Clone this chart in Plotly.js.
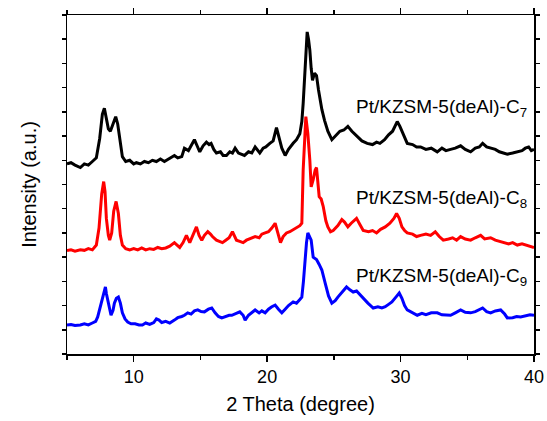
<!DOCTYPE html>
<html>
<head>
<meta charset="utf-8">
<script src="https://cdn.plot.ly/plotly-3.0.1.min.js"></script>
<style>html,body{margin:0;padding:0;background:#fff;}#chart{width:547px;height:421px;}</style>
</head>
<body>
<div id="chart"></div>
<script>
// 2 Theta (degree) and offset intensities (a.u.)
const xC7 = [5.0,5.3,5.6,6.0,6.3,6.6,6.9,7.2,7.45,7.65,7.8,7.95,8.1,8.25,8.45,8.65,8.8,9.0,9.15,9.4,9.7,10.0,10.2,10.5,10.8,11.1,11.4,11.7,12.0,12.3,12.45,12.7,13.05,13.3,13.6,13.8,14.1,14.3,14.55,14.75,14.95,15.2,15.45,15.65,15.8,16.0,16.2,16.5,16.7,16.95,17.2,17.4,17.6,17.85,18.05,18.3,18.6,18.85,19.1,19.3,19.45,19.7,19.9,20.2,20.45,20.7,20.85,21.1,21.35,21.6,21.95,22.2,22.45,22.6,22.7,22.85,23.0,23.1,23.2,23.3,23.4,23.55,23.7,23.85,23.95,24.1,24.3,24.55,24.85,25.1,25.45,25.75,26.05,26.35,26.7,27.1,27.5,27.9,28.2,28.45,28.8,29.1,29.4,29.75,29.95,30.1,30.3,30.5,30.9,31.2,31.5,31.9,32.3,32.75,33.1,33.4,33.75,34.1,34.5,34.85,35.25,35.6,35.9,36.15,36.45,36.75,37.1,37.4,37.7,38.0,38.4,38.75,39.1,39.35,39.6,39.8,40.0];
const yC7 = [7.85,7.9,7.8,7.7,7.85,7.8,7.95,8.1,8.9,9.9,10.15,9.7,9.3,9.2,9.5,9.8,9.5,8.6,8.15,7.95,8.0,7.85,7.9,7.85,7.95,7.9,8.0,7.95,8.05,7.95,8.0,8.1,8.2,8.1,8.15,8.5,8.4,8.6,8.85,8.6,8.35,8.6,8.75,8.65,8.7,8.45,8.3,8.35,8.2,8.2,8.35,8.3,8.5,8.3,8.25,8.2,8.35,8.3,8.55,8.4,8.3,8.5,8.55,8.7,8.8,9.35,9.0,8.5,8.2,8.45,8.7,8.85,9.1,9.6,10.35,12.0,13.3,13.0,12.55,11.8,11.3,11.6,11.5,10.9,10.5,10.1,9.65,9.2,8.85,9.0,9.2,9.25,9.4,9.2,9.0,8.8,8.7,8.65,8.75,8.7,8.85,9.05,9.2,9.6,9.4,9.2,8.9,8.7,8.65,8.55,8.55,8.45,8.5,8.35,8.5,8.4,8.45,8.5,8.6,8.45,8.35,8.5,8.55,8.7,8.55,8.5,8.45,8.35,8.3,8.25,8.3,8.35,8.4,8.5,8.55,8.4,8.45];

const xC8 = [5.0,5.3,5.6,6.0,6.3,6.6,6.9,7.2,7.4,7.6,7.75,7.85,7.95,8.1,8.2,8.35,8.5,8.68,8.85,9.0,9.15,9.4,9.7,10.0,10.3,10.6,10.9,11.2,11.5,11.8,12.1,12.4,12.7,13.05,13.25,13.45,13.7,13.95,14.2,14.45,14.7,14.9,15.1,15.3,15.55,15.75,15.9,16.2,16.45,16.65,16.9,17.15,17.4,17.55,17.7,17.95,18.2,18.45,18.7,19.1,19.4,19.6,19.85,20.1,20.35,20.6,20.8,21.0,21.2,21.45,21.7,22.0,22.2,22.45,22.6,22.7,22.9,23.05,23.2,23.3,23.45,23.6,23.7,23.8,23.9,24.05,24.2,24.4,24.55,24.75,24.95,25.3,25.6,25.8,26.05,26.3,26.7,26.95,27.2,27.6,27.9,28.2,28.5,28.85,29.2,29.5,29.7,29.9,30.1,30.3,30.5,30.9,31.2,31.5,31.9,32.25,32.6,32.9,33.2,33.6,33.9,34.2,34.5,34.85,35.25,35.6,36.0,36.3,36.75,37.1,37.4,37.7,38.1,38.4,38.75,39.1,39.4,39.7,40.0];
const yC8 = [4.27,4.3,4.25,4.3,4.28,4.35,4.3,4.5,5.2,6.6,7.12,6.7,5.6,4.9,4.7,5.0,5.9,6.3,5.8,4.9,4.5,4.35,4.3,4.35,4.3,4.38,4.3,4.35,4.32,4.4,4.35,4.38,4.45,4.6,4.5,4.4,4.6,4.9,4.6,4.95,5.25,4.9,4.7,4.9,5.05,4.95,4.85,4.7,4.65,4.6,4.7,4.8,5.05,4.85,4.7,4.65,4.6,4.7,4.75,4.85,4.8,4.95,5.0,5.05,5.2,5.4,5.0,4.6,4.85,5.0,5.05,5.15,5.25,5.3,5.4,7.6,9.8,9.1,8.0,6.9,7.2,7.6,7.7,7.1,6.5,6.4,6.1,5.5,5.25,5.05,5.1,5.3,5.55,5.45,5.25,5.4,5.6,5.35,5.1,5.05,5.1,5.0,5.15,5.25,5.4,5.6,5.8,5.6,5.25,5.1,5.0,4.95,4.85,4.9,4.95,4.9,5.05,4.85,4.7,4.75,4.8,4.7,4.85,4.75,4.7,4.8,4.9,4.75,4.8,4.7,4.65,4.6,4.55,4.6,4.5,4.55,4.5,4.42,4.4];

const xC9 = [5.0,5.3,5.6,6.0,6.3,6.6,6.9,7.15,7.3,7.5,7.65,7.8,7.88,7.95,8.05,8.15,8.3,8.45,8.55,8.7,8.85,9.0,9.15,9.35,9.55,9.8,10.1,10.4,10.65,10.9,11.2,11.5,11.7,11.9,12.1,12.4,12.7,13.05,13.3,13.6,13.8,14.05,14.3,14.55,14.8,15.05,15.3,15.6,15.85,16.1,16.35,16.6,16.9,17.15,17.35,17.7,17.95,18.2,18.35,18.6,18.85,19.1,19.4,19.6,19.85,20.1,20.35,20.6,20.85,21.1,21.35,21.6,21.95,22.2,22.45,22.6,22.72,22.83,22.95,23.05,23.2,23.3,23.45,23.6,23.7,23.9,24.1,24.35,24.6,24.85,25.1,25.3,25.6,25.95,26.2,26.45,26.7,26.95,27.25,27.55,27.95,28.3,28.6,28.85,29.1,29.35,29.65,29.9,30.1,30.3,30.5,30.9,31.25,31.6,31.9,32.3,32.75,33.1,33.4,33.75,34.1,34.5,34.85,35.25,35.6,35.9,36.15,36.45,36.75,37.1,37.5,37.8,38.0,38.4,38.7,39.0,39.3,39.7,40.0];
const yC9 = [1.2,1.22,1.18,1.2,1.25,1.2,1.28,1.35,1.53,2.0,2.35,2.6,2.77,2.5,2.23,1.9,1.6,1.8,2.1,2.3,2.35,2.1,1.7,1.45,1.32,1.25,1.25,1.2,1.2,1.28,1.22,1.3,1.45,1.4,1.3,1.35,1.28,1.4,1.5,1.55,1.6,1.7,1.65,1.78,1.82,1.75,1.74,1.85,1.9,1.7,1.55,1.49,1.55,1.6,1.6,1.7,1.74,1.6,1.4,1.6,1.7,1.82,1.7,1.78,1.7,1.85,1.95,2.02,1.85,1.7,1.85,2.0,2.15,2.1,2.25,2.35,3.0,3.9,4.6,5.0,4.85,4.7,4.0,3.95,3.9,3.7,3.47,2.93,2.4,2.1,2.2,2.35,2.55,2.77,2.65,2.56,2.6,2.45,2.25,2.1,1.9,1.95,1.9,1.95,2.05,2.15,2.35,2.52,2.3,2.0,1.82,1.7,1.6,1.68,1.62,1.7,1.7,1.62,1.6,1.6,1.7,1.82,1.72,1.7,1.75,1.85,1.9,1.75,1.7,1.78,1.82,1.65,1.49,1.5,1.55,1.53,1.58,1.62,1.6];

const sampleLabels = ['Pt/KZSM-5(deAl)-C<sub>7</sub>','Pt/KZSM-5(deAl)-C<sub>8</sub>','Pt/KZSM-5(deAl)-C<sub>9</sub>'];
const seriesColors = ['#000000','#ff0000','#0000ff'];

const FONT = 'Liberation Sans, Arial, sans-serif';
const xs = [xC7, xC8, xC9];
const ys = [yC7, yC8, yC9];

const traces = xs.map((x, i) => ({
  type: 'scatter', mode: 'lines', x: x, y: ys[i],
  line: {color: seriesColors[i], width: 3},
  name: sampleLabels[i], hoverinfo: 'skip'
}));

const labelY = [10.15, 6.4, 3.2];
const annotations = sampleLabels.map((t, i) => ({
  x: 39.6, y: labelY[i], xref: 'x', yref: 'y',
  xanchor: 'right', yanchor: 'middle', showarrow: false,
  text: t, font: {family: FONT, size: 19, color: '#000'}
}));

const layout = {
  width: 547, height: 421,
  margin: {l: 67, r: 13, t: 15, b: 67},
  paper_bgcolor: '#fff', plot_bgcolor: '#fff',
  showlegend: false,
  font: {family: FONT, color: '#000'},
  xaxis: {
    range: [5, 40], dtick: 10, tick0: 0,
    ticks: 'outside', ticklen: 6, tickwidth: 1.5, tickcolor: '#000',
    minor: {dtick: 5, tick0: 0, ticks: 'outside', ticklen: 4, tickwidth: 1.5, tickcolor: '#000'},
    showline: true, linecolor: '#000', linewidth: 1.5, mirror: 'ticks',
    showgrid: false, zeroline: false,
    tickfont: {family: FONT, size: 18, color: '#000'},
    title: {text: '2 Theta (degree)', font: {family: FONT, size: 20, color: '#000'}, standoff: 11}
  },
  yaxis: {
    range: [0, 14], dtick: 1, tick0: 0,
    ticks: 'outside', ticklen: 4, tickwidth: 1.5, tickcolor: '#000',
    showticklabels: false,
    showline: true, linecolor: '#000', linewidth: 1.5, mirror: 'ticks',
    showgrid: false, zeroline: false,
    title: {text: 'Intensity (a.u.)', font: {family: FONT, size: 20, color: '#000'}, standoff: 19}
  },
  annotations: annotations
};

Plotly.newPlot('chart', traces, layout, {displayModeBar: false, staticPlot: true});
</script>
</body>
</html>
